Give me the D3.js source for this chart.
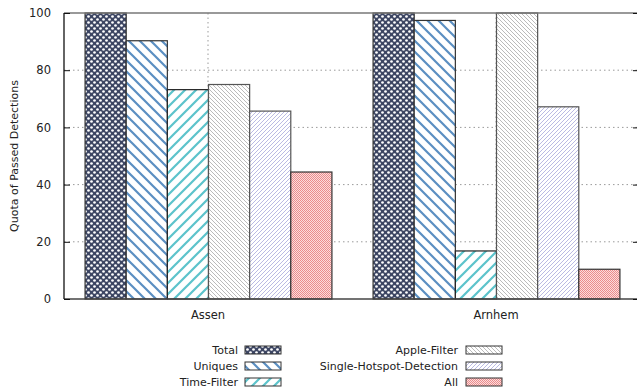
<!DOCTYPE html>
<html><head><meta charset="utf-8">
<script src="https://cdn.jsdelivr.net/npm/d3@7"></script>
<style>body{margin:0;background:#fff}svg{display:block}text{font-family:"DejaVu Sans",sans-serif;font-size:11px;fill:#222}</style>
</head><body>
<svg id="c" width="637" height="392"></svg>
<script>
const categories = ["Assen", "Arnhem"];
const seriesNames = ["Total", "Uniques", "Time-Filter", "Apple-Filter", "Single-Hotspot-Detection", "All"];
const valuesAssen = [100, 90.3, 73.2, 75.0, 65.7, 44.4];
const valuesArnhem = [100, 97.4, 16.8, 100, 67.2, 10.4];
const yTicks = [0, 20, 40, 60, 80, 100];
const yLabel = "Quota of Passed Detections";

const values = [valuesAssen, valuesArnhem];
const svg = d3.select("#c");
const L = 64, R = 640, T = 13, B = 299;

const defs = svg.append("defs");
function hatch(id, size, color, width, dir, bg) {
  const p = defs.append("pattern").attr("id", id).attr("patternUnits", "userSpaceOnUse")
    .attr("width", size).attr("height", size);
  p.append("rect").attr("width", size).attr("height", size).attr("fill", bg || "#fff");
  const d = dir > 0
    ? `M0,${size} L${size},0 M${-size/2},${size/2} L${size/2},${-size/2} M${size/2},${size*1.5} L${size*1.5},${size/2}`
    : `M0,0 L${size},${size} M${-size/2},${size/2} L${size/2},${size*1.5} M${size/2},${-size/2} L${size*1.5},${size/2}`;
  p.append("path").attr("d", d).attr("stroke", color).attr("stroke-width", width).attr("fill", "none");
}
{
  const p = defs.append("pattern").attr("id", "p0").attr("patternUnits", "userSpaceOnUse").attr("width", 6).attr("height", 6);
  p.append("rect").attr("width", 6).attr("height", 6).attr("fill", "#3d4663");
  [[1.5,1.5],[4.5,4.5]].forEach(([x,y]) => p.append("circle").attr("cx", x).attr("cy", y).attr("r", 1.35).attr("fill", "#fff"));
}
hatch("p1", 11, "#5b8fc2", 2.2, -1);
hatch("p2", 11, "#5cc3cb", 2.2, 1);
hatch("p3", 4, "#aaaaaa", 0.8, -1);
hatch("p4", 4, "#a8a8dc", 0.8, 1);
{
  const p = defs.append("pattern").attr("id", "p5").attr("patternUnits", "userSpaceOnUse").attr("width", 2).attr("height", 2);
  p.append("rect").attr("width", 2).attr("height", 2).attr("fill", "#fcdcdc");
  p.append("rect").attr("width", 1).attr("height", 1).attr("fill", "#ea8c8c");
  p.append("rect").attr("x", 1).attr("y", 1).attr("width", 1).attr("height", 1).attr("fill", "#ea8c8c");
}

const x0 = d3.scaleBand().domain(categories).range([L, R]).paddingInner(1/7).paddingOuter(1/14);
const x1 = d3.scaleBand().domain(seriesNames).range([0, x0.bandwidth()]);
const y = d3.scaleLinear().domain([0, 100]).range([B, T]);

const g = svg.append("g");
yTicks.filter(t => t > 0 && t < 100).forEach(t => {
  g.append("line").attr("x1", L).attr("x2", R).attr("y1", y(t)).attr("y2", y(t))
    .attr("stroke", "#9a9a9a").attr("stroke-width", 1).attr("stroke-dasharray", "1.5,3");
});
categories.forEach(c => {
  const cx = x0(c) + x0.bandwidth() / 2;
  g.append("line").attr("x1", cx).attr("x2", cx).attr("y1", T).attr("y2", B)
    .attr("stroke", "#9a9a9a").attr("stroke-width", 1).attr("stroke-dasharray", "1.5,3");
});

const strokeCols = ["#333", "#333", "#222", "#555", "#555", "#333"];
categories.forEach((c, ci) => {
  seriesNames.forEach((s, si) => {
    const v = values[ci][si];
    svg.append("rect")
      .attr("x", x0(c) + x1(s) + 0.5).attr("y", y(v))
      .attr("width", x1.bandwidth()).attr("height", B - y(v))
      .attr("fill", `url(#p${si})`).attr("stroke", strokeCols[si]).attr("stroke-width", 1.2);
  });
});

svg.append("line").attr("x1", L).attr("x2", R).attr("y1", T).attr("y2", T).attr("stroke", "#777").attr("stroke-width", 1.5);
svg.append("line").attr("x1", L).attr("x2", R).attr("y1", B).attr("y2", B).attr("stroke", "#444").attr("stroke-width", 1.3);
svg.append("line").attr("x1", L).attr("x2", L).attr("y1", T).attr("y2", B).attr("stroke", "#111").attr("stroke-width", 1.3);

const yAxis = d3.axisLeft(y).tickValues(yTicks).tickSize(-6).tickPadding(13);
const ya = svg.append("g").attr("transform", `translate(${L},0)`).call(yAxis);
ya.select(".domain").remove();
ya.selectAll("line").attr("stroke", "#111");
ya.selectAll("text").style("font-family", "DejaVu Sans").style("font-size", "11.5px").attr("fill", "#222");
const yAxisR = d3.axisRight(y).tickValues(yTicks).tickSize(-7).tickFormat("");
const yr = svg.append("g").attr("transform", `translate(${R},0)`).call(yAxisR);
yr.select(".domain").remove();
yr.selectAll("line").attr("stroke", "#111");

const xAxis = d3.axisBottom(x0).tickSize(0).tickPadding(12);
const xa = svg.append("g").attr("transform", `translate(0,${B})`).call(xAxis);
xa.select(".domain").remove();
xa.selectAll("text").style("font-family", "DejaVu Sans").style("font-size", "11.5px").attr("fill", "#222");

svg.append("text").attr("transform", `translate(18,${(T + B) / 2}) rotate(-90)`)
  .attr("text-anchor", "middle").text(yLabel);

const legendCols = [{tx: 238, sx: 245}, {tx: 458, sx: 466}];
seriesNames.forEach((s, i) => {
  const col = legendCols[Math.floor(i / 3)];
  const row = i % 3;
  const cy = 350 + row * 16;
  svg.append("text").attr("x", col.tx).attr("y", cy).attr("dy", "0.35em").attr("text-anchor", "end").text(s);
  svg.append("rect").attr("x", col.sx).attr("y", cy - 4).attr("width", 36).attr("height", 8)
    .attr("fill", `url(#p${i})`).attr("stroke", "#333").attr("stroke-width", 1);
});
</script>
</body></html>
